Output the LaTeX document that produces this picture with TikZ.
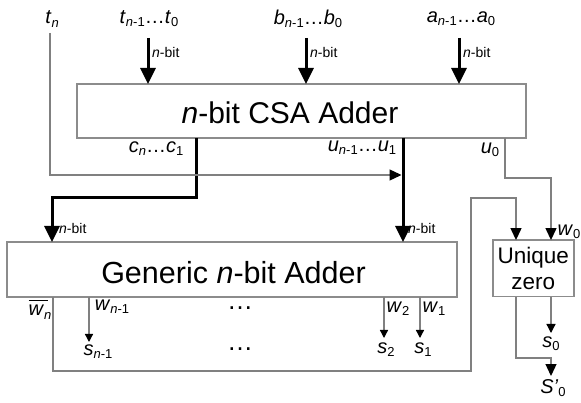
\documentclass[tikz,border=0pt]{standalone}
\usepackage{fontspec}
\setmainfont{Liberation Sans}
\usetikzlibrary{arrows.meta,calc}
\newcommand{\Sb}[1]{\raisebox{-0.3ex}{\fontsize{13}{13}\selectfont #1}}
\newcommand{\vr}[2]{\textit{#1}\Sb{#2}}
\definecolor{wire}{gray}{0.5}
\definecolor{edge}{gray}{0.55}
\begin{document}
\begin{tikzpicture}[x=1pt,y=-1pt,
  box/.style={draw=edge,line width=1.4pt,fill=white,inner sep=0,outer sep=0},
  lbl/.style={inner sep=0,font=\fontsize{20}{22}\selectfont},
  nb/.style={inner sep=0,font=\fontsize{14}{14}\selectfont,anchor=west},
  bus/.style={line width=3pt,black,-{Triangle[width=15pt,length=16pt]}},
  wirel/.style={draw=wire,line width=1.3pt},
  midtip/.style={wirel,-{Triangle[width=11pt,length=12pt,color=black]}},
  smalltip/.style={wirel,-{Triangle[width=8pt,length=8pt,color=black]}},
  dots/.style={inner sep=0,anchor=base,font=\fontsize{26}{26}\selectfont}]
\useasboundingbox (0,0) rectangle (581,403);
% boxes
\node[box,minimum width=449pt,minimum height=54pt] (csa) at (301.5,111) {};
\node[inner sep=0,font=\fontsize{30}{30}\selectfont] (csat) at (290,113) {\textit{n}-bit CSA Adder};
\node[box,minimum width=450pt,minimum height=55pt] (gen) at (232,269.5) {};
\node[inner sep=0,font=\fontsize{30.5}{30.5}\selectfont] (gent) at (233.5,272.5) {Generic \textit{n}-bit Adder};
\node[box,minimum width=81pt,minimum height=56.5pt,align=center,font=\fontsize{22.5}{26}\selectfont] (uz) at (533.3,268.3) {Unique\\zero};
% input labels
\node[lbl] (tn) at (52,19) {\vr{t}{\textit{n}}};
\node[lbl] (tin) at (149,19) {\vr{t}{\textit{n}-1}…\vr{t}{0}};
\node[lbl] (bin) at (308,19) {\vr{b}{\textit{n}-1}…\vr{b}{0}};
\node[lbl] (ain) at (461,19) {\vr{a}{\textit{n}-1}…\vr{a}{0}};
% input buses
\coordinate (ta) at (148,38);
\coordinate (ba) at (306,38);
\coordinate (aa) at (459,38);
\draw[bus] (ta) -- (ta |- csa.north);
\draw[bus] (ba) -- (ba |- csa.north);
\draw[bus] (aa) -- (aa |- csa.north);
\node[nb] (nbt) at (152,52) {\textit{n}-bit};
\node[nb] (nbb) at (310,52) {\textit{n}-bit};
\node[nb] (nba) at (463,52) {\textit{n}-bit};
% CSA outputs
\node[lbl] (cl) at (156,149) {\vr{c}{\textit{n}}…\vr{c}{1}};
\node[lbl] (ul) at (362,148) {\vr{u}{\textit{n}-1}…\vr{u}{1}};
\node[lbl] (u0l) at (490,150) {\vr{u}{0}};
\coordinate (cout) at (196,138);
\coordinate (cbend) at (196,198);
\coordinate (cin) at (52,198);
\draw[bus] (cout) -- (cbend) -- (cin) -- (cin |- gen.north);
\node[nb] (nbc) at (59,228) {\textit{n}-bit};
\coordinate (uout) at (403,138);
\draw[bus] (uout) -- (uout |- gen.north);
\node[nb] (nbu) at (408,228) {\textit{n}-bit};
% t_n wire
\coordinate (tnw) at (50,33);
\coordinate (tnb) at (50,175);
\coordinate (tnj) at (401.5,175);
\draw[midtip] (tnw) -- (tnb) -- (tnj);
% u0 wire
\coordinate (u0out) at (505,138);
\coordinate (u0b) at (505,178);
\coordinate (u0c) at (551,178);
\draw[midtip] (u0out) -- (u0b) -- (u0c) -- (u0c |- uz.north);
\node[lbl] (w0l) at (569,232) {\vr{w}{0}};
% loop wire w_n
\coordinate (wn) at (53,297);
\coordinate (l1) at (53,371);
\coordinate (l2) at (471,371);
\coordinate (l3) at (471,198);
\coordinate (l4) at (516,198);
\draw[midtip] (wn) -- (l1) -- (l2) -- (l3) -- (l4) -- (l4 |- uz.north);
\node[lbl,anchor=base] (wnl) at (40,316) {\makebox[0pt][l]{\raisebox{0.74em}{\rule{0.95em}{0.06em}}}\vr{w}{\textit{n}}};
% generic outputs
\coordinate (o1) at (89,342);
\coordinate (o2) at (384,338);
\coordinate (o3) at (420,338);
\draw[smalltip] (o1 |- gen.south) -- (o1);
\draw[smalltip] (o2 |- gen.south) -- (o2);
\draw[smalltip] (o3 |- gen.south) -- (o3);
\node[lbl] (wn1l) at (112,307) {\vr{w}{\textit{n}-1}};
\node[lbl] (sn1l) at (98,352) {\vr{s}{\textit{n}-1}};
\node[lbl] (w2l) at (398,309) {\vr{w}{2}};
\node[lbl] (w1l) at (434,309) {\vr{w}{1}};
\node[lbl] (s2l) at (386,350) {\vr{s}{2}};
\node[lbl] (s1l) at (423,350) {\vr{s}{1}};
\node[dots] (d1) at (240,309) {…};
\node[dots] (d2) at (240,350) {…};
% unique zero outputs
\coordinate (s0t) at (551,333);
\draw[-{Triangle[width=9pt,length=9pt,color=black]},wirel] (s0t |- uz.south) -- (s0t);
\node[lbl] (s0l) at (551,344) {\vr{s}{0}};
\coordinate (sp1) at (516,358);
\coordinate (sp2) at (551,358);
\coordinate (sp3) at (551,376);
\draw[midtip] (sp1 |- uz.south) -- (sp1) -- (sp2) -- (sp3);
\node[lbl] (spl) at (553,388) {\vr{S’}{0}};
\end{tikzpicture}
\end{document}
